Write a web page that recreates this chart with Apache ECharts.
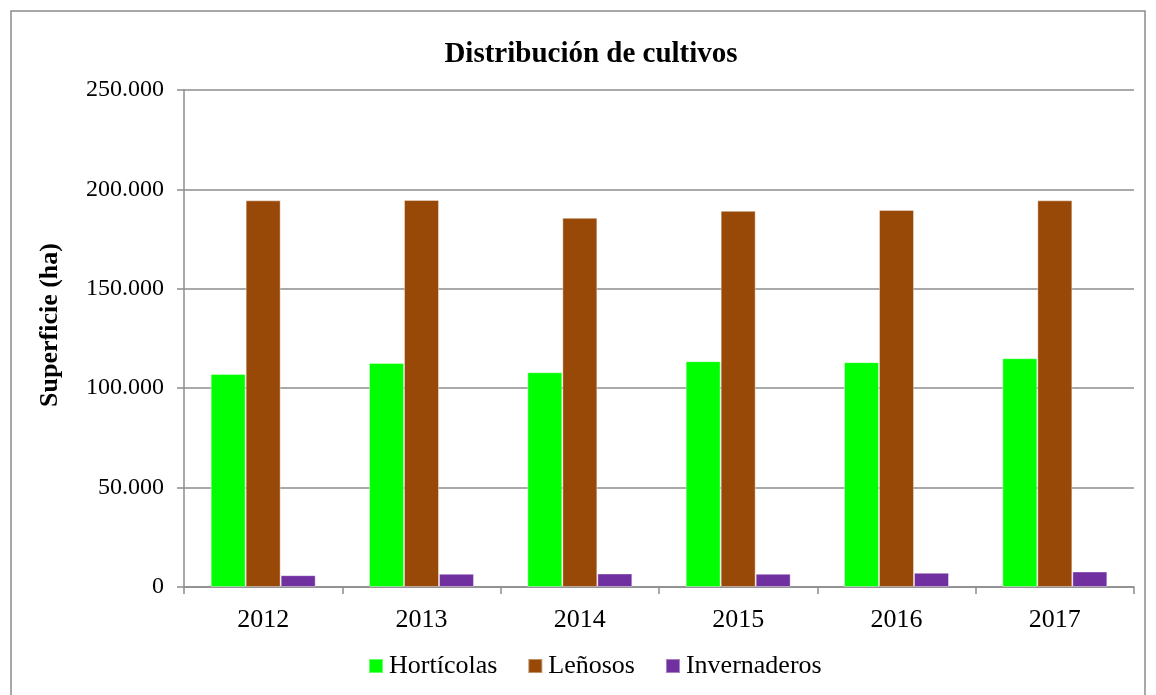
<!DOCTYPE html>
<html>
<head>
<meta charset="utf-8">
<script src="https://cdn.jsdelivr.net/npm/echarts@6/dist/echarts.min.js"></script>
<style>
  html, body { margin: 0; padding: 0; background: #fff; }
  #chart { width: 1156px; height: 695px; }
</style>
</head>
<body>
<div id="chart"></div>
<script>
// datos
var years = ['2012', '2013', '2014', '2015', '2016', '2017'];
var horticolas = [107200, 112700, 108000, 113600, 113100, 115100];
var lenosos = [194500, 194700, 185700, 189200, 189700, 194500];
var invernaderos = [5950, 6650, 6800, 6650, 7150, 7800];

var serif = '"Liberation Serif", "Times New Roman", serif';

// separador de miles con punto
var fmtMiles = function(v) {
	return v.toString().replace(/\B(?=(?:\d{3})+\b)/g, '.');
};

var myChart = echarts.init(document.getElementById('chart'));
myChart.setOption({
	animation: false,
	textStyle: { fontFamily: serif },
	title: {
		text: 'Distribución de cultivos',
		left: 586,
		textAlign: 'center',
		top: 35,
		textStyle: {
			fontFamily: serif,
			fontSize: 29,
			fontWeight: 'bold',
			color: '#000'
		}
	},
	graphic: [{
		type: 'rect',
		shape: { x: 11, y: 11, width: 1134, height: 720 },
		style: { fill: 'none', stroke: '#8c8c8c', lineWidth: 1.5 },
		silent: true
	}],
	legend: {
		data: ['Hortícolas', 'Leñosos', 'Invernaderos'],
		left: 363,
		top: 648,
		itemWidth: 14,
		itemHeight: 14,
		itemGap: 30,
		icon: 'rect',
		textStyle: { fontFamily: serif, fontSize: 26, color: '#000', padding: [0, 0, 0, 1] }
	},
	grid: {
		left: 184,
		right: 22,
		top: 90,
		bottom: 108,
		outerBoundsMode: 'none'
	},
	xAxis: {
		type: 'category',
		data: years,
		axisLine: { lineStyle: { color: '#8c8c8c', width: 1.5 } },
		axisTick: { show: true, length: 7, lineStyle: { color: '#8c8c8c', width: 1.5 } },
		axisLabel: { fontFamily: serif, fontSize: 26, color: '#000', margin: 20 }
	},
	yAxis: {
		type: 'value',
		min: 0,
		max: 250000,
		interval: 50000,
		name: 'Superficie (ha)',
		nameLocation: 'middle',
		nameGap: 121,
		nameRotate: 90,
		nameTextStyle: { fontFamily: serif, fontSize: 26, fontWeight: 'bold', color: '#000', padding: [0, 0, 0, 27] },
		axisLine: { show: true, lineStyle: { color: '#8c8c8c', width: 1.5 } },
		axisTick: { show: true, length: 7, lineStyle: { color: '#8c8c8c', width: 1.5 } },
		axisLabel: {
			fontFamily: serif,
			fontSize: 24,
			color: '#000',
			margin: 20,
			formatter: function(v) { return fmtMiles(v); }
		},
		splitLine: { lineStyle: { color: '#8c8c8c', width: 1.5 } }
	},
	series: [{
			name: 'Hortícolas',
			type: 'bar',
			barWidth: 35,
			barGap: '0%',
			itemStyle: { color: '#00ff00', borderColor: 'rgba(255,255,255,0.4)', borderWidth: 1 },
			data: horticolas
		},
		{
			name: 'Leñosos',
			type: 'bar',
			barWidth: 35,
			barGap: '0%',
			itemStyle: { color: '#984807', borderColor: 'rgba(255,255,255,0.4)', borderWidth: 1 },
			data: lenosos
		},
		{
			name: 'Invernaderos',
			type: 'bar',
			barWidth: 35,
			barGap: '0%',
			itemStyle: { color: '#7030a0', borderColor: 'rgba(255,255,255,0.4)', borderWidth: 1 },
			data: invernaderos
		}
	]
});
</script>
</body>
</html>
